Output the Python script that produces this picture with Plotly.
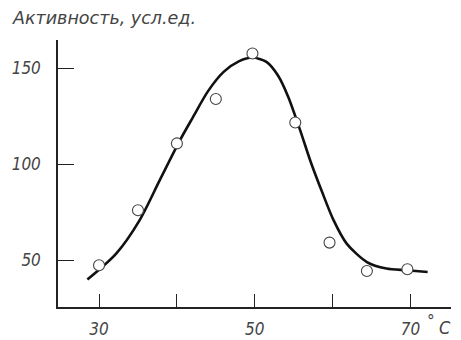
import plotly.graph_objects as go

# Measured points (temperature, activity)
temp_points = [30, 35, 40, 45, 49.7, 55.2, 59.6, 64.4, 69.6]
activity_points = [47.4, 76, 110.8, 133.9, 157.6, 121.7, 59.2, 44.4, 45.3]

# Smoothed fitted curve
curve_temp = [28.5, 32.2, 35.2, 37.8, 40.4, 42.0, 44.0, 46.0, 48.0, 49.7, 51.5,
              53.0, 54.3, 55.8, 57.2, 58.6, 60.1, 61.8, 64.4, 66.9, 69.5, 72.2]
curve_activity = [40, 53.5, 70.8, 91.7, 112.5, 124, 138, 148, 153.6, 155.5, 153.2,
                  146, 135, 118, 101, 86, 71, 58.7, 49.1, 45.7, 44.8, 43.9]

x_tickvals = [30, 40, 50, 60, 70]
x_ticktext = ["30", "", "50", "", "70"]
y_tickvals = [50, 100, 150]
y_ticktext = ["50", "100", "150"]

font_family = "DejaVu Sans Condensed, Liberation Sans Narrow, sans-serif"
title_family = "DejaVu Sans, sans-serif"
text_color = "#444"

fig = go.Figure()
fig.add_trace(go.Scatter(
    x=curve_temp, y=curve_activity, mode="lines",
    line=dict(color="#111", width=2.6, shape="spline", smoothing=0.8),
    hoverinfo="skip", showlegend=False))
fig.add_trace(go.Scatter(
    x=temp_points, y=activity_points, mode="markers",
    marker=dict(symbol="circle", size=11, color="white",
                line=dict(color="#444", width=1.1)),
    showlegend=False))

# page body adds an 8px offset, so the figure is sized/margined to compensate
fig.update_layout(
    width=453, height=332,
    margin=dict(l=50, r=10, t=32, b=33),
    paper_bgcolor="white", plot_bgcolor="white",
    font=dict(family=font_family, color=text_color, size=16),
    xaxis=dict(range=[24.73, 75.2], showgrid=False, zeroline=False, automargin=False,
               showline=True, linecolor="#222", linewidth=1.5,
               ticks="inside", ticklen=13, tickwidth=1.3, tickcolor="#222",
               tickvals=x_tickvals, ticktext=x_ticktext,
               tickfont=dict(family=font_family, size=17, color=text_color, style="italic"),
               ticklabelstandoff=6),
    yaxis=dict(range=[25.7, 164.6], showgrid=False, zeroline=False, automargin=False,
               showline=True, linecolor="#222", linewidth=1.5,
               ticks="inside", ticklen=16, tickwidth=1.3, tickcolor="#222",
               tickvals=y_tickvals, ticktext=y_ticktext,
               tickfont=dict(family=font_family, size=17, color=text_color, style="italic"),
               ticklabelstandoff=12),
    annotations=[
        dict(text="Активность, усл.ед.", xref="paper", yref="paper",
             x=-48/393, y=1 + 22/267, xanchor="left", yanchor="middle",
             showarrow=False,
             font=dict(family=title_family, size=17.5, color=text_color, style="italic")),
        dict(text="°", xref="paper", yref="paper",
             x=1 - 14/393, y=-14/267, xanchor="right", yanchor="middle",
             showarrow=False,
             font=dict(family=font_family, size=17, color=text_color, style="italic")),
        dict(text="C", xref="paper", yref="paper",
             x=1 + 2/393, y=-20/267, xanchor="right", yanchor="middle",
             showarrow=False,
             font=dict(family=font_family, size=18, color=text_color, style="italic")),
    ],
)

fig.write_html("out.html")
